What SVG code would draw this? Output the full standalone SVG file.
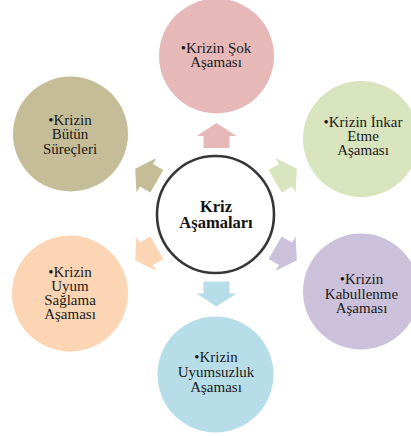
<svg xmlns="http://www.w3.org/2000/svg" width="411" height="436" viewBox="0 0 411 436">
<style>
  .t{font-family:"Liberation Serif","Times New Roman",serif;font-size:15px;fill:#1a1a1a;text-anchor:middle}
  .c{font-family:"Liberation Serif","Times New Roman",serif;font-size:16.5px;font-weight:bold;fill:#111;text-anchor:middle}
</style>
<defs>
  <path id="arr" d="M0,-12.5 L20,0.5 L13,0.5 L13,12.5 L-13,12.5 L-13,0.5 L-20,0.5 Z"/>
</defs>
<rect width="411" height="436" fill="#ffffff"/>
<g id="connectors">
  <use href="#arr" fill="#E6B9B8" transform="translate(216.5,135.5)"/>
  <use href="#arr" fill="#D7E4BD" transform="translate(286,175) rotate(60)"/>
  <use href="#arr" fill="#CCC1DA" transform="translate(286,254) rotate(120)"/>
  <use href="#arr" fill="#B7DEE8" transform="translate(216.5,294) rotate(180)"/>
  <use href="#arr" fill="#FCD5B5" transform="translate(146,254) rotate(240)"/>
  <use href="#arr" fill="#C4BD97" transform="translate(146,175) rotate(300)"/>
</g>
<g id="center">
  <circle cx="215.5" cy="214.5" r="58.5" fill="#ffffff" stroke="#363636" stroke-width="2.6"/>
  <text class="c" x="216" y="211.5">Kriz</text>
  <text class="c" x="216" y="227.5">Aşamaları</text>
</g>
<g id="sok">
  <circle cx="216.5" cy="56" r="57.5" fill="#E6B9B8"/>
  <text class="t" x="216" y="53">•Krizin Şok</text>
  <text class="t" x="216" y="67">Aşaması</text>
</g>
<g id="inkar">
  <circle cx="361" cy="139" r="58" fill="#D7E4BD"/>
  <text class="t" x="363" y="126.5">•Krizin İnkar</text>
  <text class="t" x="363" y="140.5">Etme</text>
  <text class="t" x="363" y="154.5">Aşaması</text>
</g>
<g id="kabullenme">
  <circle cx="361" cy="291.5" r="58" fill="#CCC1DA"/>
  <text class="t" x="361.5" y="284">•Krizin</text>
  <text class="t" x="361.5" y="298.5">Kabullenme</text>
  <text class="t" x="361.5" y="313">Aşaması</text>
</g>
<g id="uyumsuzluk">
  <circle cx="215.5" cy="374.5" r="58" fill="#B7DEE8"/>
  <text class="t" x="216" y="362">•Krizin</text>
  <text class="t" x="216" y="377">Uyumsuzluk</text>
  <text class="t" x="216" y="392">Aşaması</text>
</g>
<g id="uyum">
  <circle cx="70" cy="293.5" r="58" fill="#FCD5B5"/>
  <text class="t" x="70" y="276.5">•Krizin</text>
  <text class="t" x="70" y="290.8">Uyum</text>
  <text class="t" x="70" y="305.1">Sağlama</text>
  <text class="t" x="70" y="319.4">Aşaması</text>
</g>
<g id="butun">
  <circle cx="70.5" cy="134" r="57.5" fill="#C4BD97"/>
  <text class="t" x="70" y="125">•Krizin</text>
  <text class="t" x="70" y="139">Bütün</text>
  <text class="t" x="70" y="153.5">Süreçleri</text>
</g>
</svg>
